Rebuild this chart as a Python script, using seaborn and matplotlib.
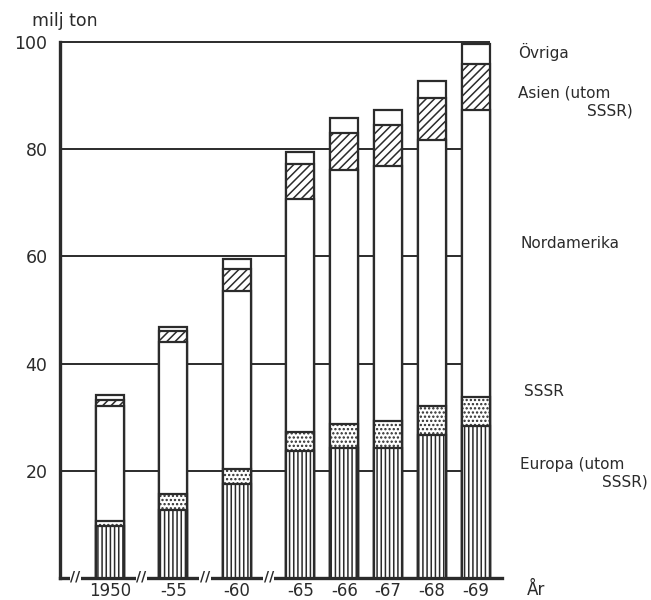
import matplotlib
matplotlib.use("Agg")
import matplotlib.pyplot as plt
import seaborn as sns
import numpy as np
import pandas as pd

# ---- data (milj ton) ----
years = ["1950", "-55", "-60", "-65", "-66", "-67", "-68", "-69"]
europa = [9.7, 12.7, 17.5, 23.7, 24.3, 24.3, 26.6, 28.3]
sssr = [1.0, 2.9, 2.9, 3.5, 4.5, 5.0, 5.4, 5.4]
nordamerika = [21.3, 28.4, 33.2, 43.5, 47.3, 47.5, 49.7, 53.6]
asien = [1.2, 2.1, 4.0, 6.5, 6.9, 7.7, 7.9, 8.6]
ovriga = [0.9, 0.8, 2.0, 2.3, 2.9, 2.9, 3.2, 3.7]
y_ticks = [20, 40, 60, 80, 100]

# ---- layout (bar positions: wider gaps for 5-year steps) ----
x_pos = [0, 1.45, 2.9, 4.35, 5.35, 6.35, 7.35, 8.35]
bar_w = 0.64
ink = "#2b2b2b"

sns.set_theme(style="white")
plt.rcParams['font.family'] = ['DejaVu Sans']
plt.rcParams['hatch.color'] = ink
plt.rcParams['hatch.linewidth'] = 1.1

fig = plt.figure(figsize=(6.51, 6.0), dpi=100)
ax = fig.add_axes([60 / 651, 22 / 600, 442 / 651, 536 / 600])

c1 = np.array(europa)
c2 = c1 + np.array(sssr)
c3 = c2 + np.array(nordamerika)
c4 = c3 + np.array(asien)
c5 = c4 + np.array(ovriga)

layers = [(c5, ""), (c4, "////"), (c3, ""), (c2, "...."), (c1, "||||")]
for vals, hatch in layers:
    df = pd.DataFrame({"x": x_pos, "v": vals})
    sns.barplot(data=df, x="x", y="v", native_scale=True, width=bar_w,
                color="white", saturation=1, edgecolor=ink, linewidth=1.6,
                hatch=hatch, errorbar=None, ax=ax, zorder=3)

x_left = x_pos[0] - 1.136
x_right = x_pos[-1] + 0.6
ax.set_xlim(x_left, x_right)
ax.set_ylim(0, 100)

# horizontal guide lines, ending at the last bar
ax.hlines(y_ticks, x_left, x_pos[-1] + bar_w / 2, color=ink, lw=1.4,
          zorder=1, clip_on=False)

ax.set_yticks(y_ticks, [str(t) for t in y_ticks])
ax.set_xticks(x_pos, years)
ax.set_xlabel("")
ax.set_ylabel("")
ax.tick_params(axis="y", length=0, labelsize=12.5, pad=9, colors=ink)
ax.tick_params(axis="x", length=0, labelsize=12, pad=3, colors=ink)

for s in ["top", "right"]:
    ax.spines[s].set_visible(False)
for s in ["left", "bottom"]:
    ax.spines[s].set_linewidth(2.4)
    ax.spines[s].set_color(ink)

# axis break marks
breaks = [x_pos[0] - 0.78] + [(x_pos[i] + x_pos[i + 1]) / 2 for i in range(3)]
for b in breaks:
    ax.text(b, 0.3, "//", ha="center", va="center", fontsize=10, color=ink,
            fontweight="bold",
            bbox=dict(boxstyle="square,pad=0.05", fc="white", ec="none"),
            zorder=5, clip_on=False)

def ftext(px, py, s, size=11, **kw):
    fig.text(px / 651, 1 - py / 600, s, fontsize=size, color=ink,
             va="center", **kw)

fig.text(32 / 651, 1 - 21 / 600, "milj ton", fontsize=12.5, color=ink,
         va="center", ha="left")
ftext(518, 52, "Övriga")
ftext(518, 93, "Asien (utom")
ftext(633, 111, "SSSR)", ha="right")
ftext(520, 243, "Nordamerika")
ftext(524, 392, "SSSR")
ftext(520, 464, "Europa (utom")
ftext(648, 482, "SSSR)", ha="right")
ftext(527, 590, "År", size=12)

fig.savefig("out.png", dpi=100)
